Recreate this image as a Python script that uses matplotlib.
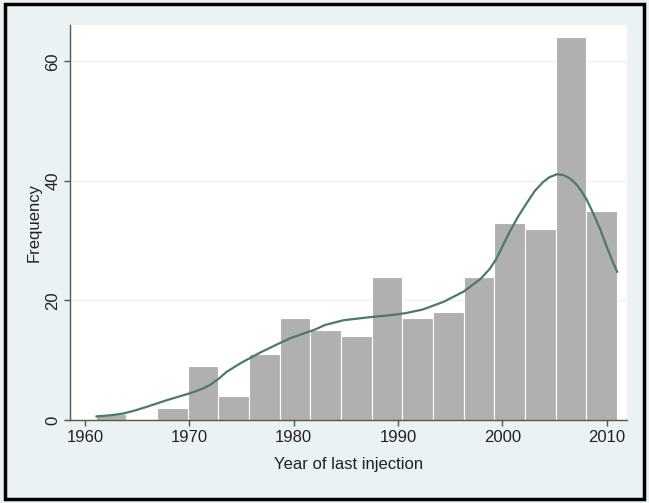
import numpy as np
import matplotlib.pyplot as plt
from matplotlib.patches import Rectangle

plt.rcParams['font.family'] = ['Liberation Sans', 'DejaVu Sans']

# histogram: 17 bins from 1961 to 2011
bin_start = 1961
bin_end = 2011
counts = [1, 0, 2, 9, 4, 11, 17, 15, 14, 24, 17, 18, 24, 33, 32, 64, 35]

# kernel density curve (scaled to frequency)
kde_year = [1961.1, 1962.5, 1963.7, 1964.8, 1965.9, 1967.8, 1970.1, 1971.2, 1972.0,
            1972.8, 1973.6, 1974.9, 1976.8, 1978.7, 1979.7, 1981.0, 1982.0,
            1983.0, 1984.8, 1987.3, 1989.6, 1990.8, 1992.4, 1994.4, 1996.3,
            1997.9, 1998.8, 1999.4, 2000.0, 2000.7, 2001.5, 2002.3, 2003.1,
            2003.9, 2004.5, 2005.2, 2005.8, 2006.4, 2007.0, 2007.5, 2008.1,
            2008.7, 2009.4, 2010.0, 2010.5, 2011.0]
kde_freq = [0.6, 0.8, 1.1, 1.6, 2.2, 3.3, 4.5, 5.2, 5.9,
            6.9, 8.1, 9.5, 11.3, 12.9, 13.7, 14.5, 15.1,
            15.9, 16.7, 17.2, 17.6, 17.9, 18.5, 19.8, 21.5,
            23.6, 25.3, 26.9, 29.0, 31.5, 34.0, 36.2, 38.3,
            39.8, 40.6, 41.1, 41.0, 40.5, 39.6, 38.5, 36.8,
            34.6, 31.8, 29.0, 26.8, 24.8]

xticks = [1960, 1970, 1980, 1990, 2000, 2010]
yticks = [0, 20, 40, 60]

bg = '#eaf2f3'
fig = plt.figure(figsize=(6.49, 5.03), dpi=100, facecolor=bg)
ax = fig.add_axes([0.108, 0.165, 0.858, 0.785])
ax.set_facecolor('white')

edges = np.linspace(bin_start, bin_end, len(counts) + 1)
ax.bar(edges[:-1], counts, width=np.diff(edges), align='edge',
       color='#b0b0b0', edgecolor='white', linewidth=0.8, zorder=2)
ax.plot(kde_year, kde_freq, color='#4a7a68', linewidth=1.6, zorder=3)

ax.set_xlim(1958.56, 2011.94)
ax.set_ylim(0, 66.05)
ax.set_xticks(xticks)
ax.set_yticks(yticks)
ax.set_yticklabels([str(v) for v in yticks], rotation=90, va='center')
ax.grid(axis='y', color=bg, linewidth=1.0, zorder=1)
ax.set_axisbelow(True)

for s in ['top', 'right']:
    ax.spines[s].set_visible(False)
for s in ['left', 'bottom']:
    ax.spines[s].set_color('#555555')
    ax.spines[s].set_linewidth(1.0)
ax.tick_params(direction='out', length=4, width=1, color='#555555',
               labelsize=12, labelcolor='#222222', pad=3)

ax.set_xlabel('Year of last injection', fontsize=12, color='#222222', labelpad=9)
ax.set_ylabel('Frequency', fontsize=12, color='#222222', labelpad=3)

# black frame round the whole graph
fig.patches.append(Rectangle((0.008, 0.008), 0.984, 0.984, transform=fig.transFigure,
                             fill=False, edgecolor='black', linewidth=2.5))

fig.savefig('out.png', dpi=100, facecolor=bg)
